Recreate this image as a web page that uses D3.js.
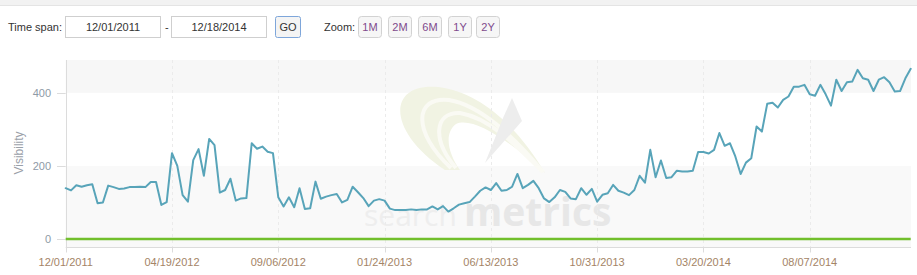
<!DOCTYPE html>
<html>
<head>
<meta charset="utf-8">
<script src="https://cdn.jsdelivr.net/npm/d3@7"></script>
<style>
  html, body { margin: 0; padding: 0; background: #fff; }
  svg { display: block; font-family: "Liberation Sans", Arial, sans-serif; }
</style>
</head>
<body>
<svg width="917" height="275"></svg>
<script>
// weekly visibility values, first week 12/01/2011
var visibility = [
  139, 133, 147, 143, 147, 150, 98, 100, 146, 142,
  137, 138, 142, 142, 143, 142, 156, 156, 93, 101,
  235, 200, 120, 102, 216, 246, 173, 274, 257, 127,
  134, 165, 105, 111, 112, 262, 247, 253, 239, 235,
  114, 89, 114, 87, 139, 82, 84, 157, 110, 116,
  120, 123, 100, 107, 143, 128, 112, 90, 105, 109,
  105, 83, 79, 79, 79, 81, 79, 81, 81, 89,
  81, 90, 75, 84, 94, 98, 101, 116, 132, 141,
  134, 153, 132, 134, 143, 178, 139, 148, 159, 139,
  111, 101, 114, 134, 129, 111, 109, 139, 121, 137,
  102, 121, 125, 148, 132, 127, 120, 134, 173, 154,
  244, 169, 215, 167, 169, 187, 185, 185, 187, 238,
  238, 234, 244, 290, 255, 262, 226, 178, 209, 221,
  308, 294, 370, 373, 360, 381, 390, 417, 417, 422,
  396, 392, 422, 396, 365, 436, 405, 429, 431, 463,
  440, 436, 405, 436, 443, 429, 404, 405, 440, 466
];
var baselineDates = ["12/01/2011", "12/18/2014"];
var baselineValues = [0, 0];
var xTickLabels = ["12/01/2011", "04/19/2012", "09/06/2012", "01/24/2013",
                   "06/13/2013", "10/31/2013", "03/20/2014", "08/07/2014"];
var yTicks = [0, 200, 400];
var zoomButtons = ["1M", "2M", "6M", "1Y", "2Y"];
var spanFrom = "12/01/2011", spanTo = "12/18/2014";

var parseDate = d3.timeParse("%m/%d/%Y");
var startDate = parseDate(spanFrom);
var data = visibility.map(function (v, i) {
    return { date: d3.timeDay.offset(startDate, i * 7), value: v };
});
var base = baselineDates.map(function (d, i) {
    return { date: parseDate(d), value: baselineValues[i] };
});

var svg = d3.select("svg");

// ---- control bar ----
svg.append("rect").attr("x", 0).attr("y", 0).attr("width", 917).attr("height", 5).attr("fill", "#f2f2f2");
svg.append("line").attr("x1", 0).attr("x2", 917).attr("y1", 5.5).attr("y2", 5.5).attr("stroke", "#e4e4e4");

var bar = svg.append("g").attr("font-size", 11);
bar.append("text").attr("x", 8).attr("y", 31).attr("fill", "#333").text("Time span:");

function box(x, w, label, opts) {
    opts = opts || {};
    bar.append("rect")
        .attr("x", x + 0.5).attr("y", 16.5).attr("width", w).attr("height", 21)
        .attr("rx", opts.rx || 0)
        .attr("fill", opts.fill || "#fff")
        .attr("stroke", opts.stroke || "#cfcfcf");
    bar.append("text")
        .attr("x", x + 0.5 + w / 2).attr("y", 31)
        .attr("text-anchor", "middle")
        .attr("fill", opts.color || "#333")
        .text(label);
}
box(65, 95, spanFrom);
bar.append("text").attr("x", 165).attr("y", 31).attr("fill", "#333").text("-");
box(171, 95, spanTo);
box(275, 25, "GO", { rx: 2, fill: "#f4f4f4", stroke: "#7ea6da" });
bar.append("text").attr("x", 324).attr("y", 31).attr("fill", "#333").text("Zoom:");
var zoomX = [358, 388, 418, 448, 476];
zoomButtons.forEach(function (b, i) {
    box(zoomX[i], 23, b, { rx: 3, fill: "#f6f6f6", stroke: "#d2d2d2", color: "#7f4a8c" });
});

// ---- chart ----
var plot = { left: 65.7, right: 911, top: 60, bottom: 247 };

var x = d3.scaleTime()
    .domain([startDate, parseDate(spanTo)])
    .range([plot.left, 910.7]);

var y = d3.scaleLinear()
    .domain([-22, 490])
    .range([plot.bottom, plot.top]);

var g = svg.append("g");

// alternating bands
var bands = [[-22, 200, "#f9f9f9"], [200, 400, "#ffffff"], [400, 490, "#f7f7f7"]];
g.selectAll(".band").data(bands).enter().append("rect")
    .attr("x", plot.left).attr("width", plot.right - plot.left)
    .attr("y", function (d) { return y(d[1]); })
    .attr("height", function (d) { return y(d[0]) - y(d[1]); })
    .attr("fill", function (d) { return d[2]; });

// watermark
var wm = g.append("g");
wm.append("path")
    .attr("d", "M445,170 C385,130 388,82 438,87 C482,92 520,130 545,173 C512,143 474,116 456,124 C443,134 449,155 460,170 Z")
    .attr("fill", "#f1f3e3");
wm.append("path")
    .attr("d", "M451,168 C412,132 414,96 449,100 C481,105 517,140 543,172")
    .attr("fill", "none").attr("stroke", "#fafaf4").attr("stroke-width", 4);
wm.append("path")
    .attr("d", "M456,168 C432,140 434,112 460,113 C490,118 517,146 543,172")
    .attr("fill", "none").attr("stroke", "#fafaf4").attr("stroke-width", 4);
wm.append("path")
    .attr("d", "M512,98 L522,121 L485,163 L503,118 Z")
    .attr("fill", "#ededed");
wm.append("text")
    .attr("x", 364).attr("y", 226)
    .attr("font-family", "'Open Sans', sans-serif").attr("font-size", 30)
    .attr("fill", "#eeeeee")
    .text("search");
wm.append("text")
    .attr("x", 464).attr("y", 226)
    .attr("font-family", "'Open Sans', sans-serif").attr("font-size", 39).attr("font-weight", "bold")
    .attr("fill", "#e7e7e7")
    .text("metrics");

// vertical grid lines
var tickDates = xTickLabels.map(parseDate);
g.selectAll(".vgrid").data(tickDates.slice(1)).enter().append("line")
    .attr("x1", function (d) { return Math.round(x(d)) + 0.5; })
    .attr("x2", function (d) { return Math.round(x(d)) + 0.5; })
    .attr("y1", plot.top).attr("y2", plot.bottom)
    .attr("stroke", "#ebebeb").attr("stroke-dasharray", "3,3");

// left border
g.append("line")
    .attr("x1", Math.round(plot.left) + 0.5).attr("x2", Math.round(plot.left) + 0.5)
    .attr("y1", plot.top).attr("y2", plot.bottom + 5)
    .attr("stroke", "#dcdcdc");

// x axis
var xAxis = g.append("g").attr("transform", "translate(0," + (plot.bottom + 0.5) + ")");
xAxis.append("line").attr("x1", plot.left).attr("x2", plot.right).attr("stroke", "#dcdcdc");
xAxis.selectAll(".tick").data(tickDates).enter().append("line")
    .attr("x1", function (d) { return Math.round(x(d)) + 0.5; })
    .attr("x2", function (d) { return Math.round(x(d)) + 0.5; })
    .attr("y1", 0).attr("y2", 5)
    .attr("stroke", "#dcdcdc");
xAxis.selectAll("text").data(xTickLabels).enter().append("text")
    .attr("x", function (d) { return x(parseDate(d)); })
    .attr("y", 18)
    .attr("text-anchor", "middle")
    .attr("font-size", 11)
    .attr("fill", "#a48466")
    .text(function (d) { return d; });

// y axis
var yAxis = g.append("g");
yAxis.selectAll("line").data(yTicks).enter().append("line")
    .attr("x1", 57).attr("x2", plot.left)
    .attr("y1", function (d) { return Math.round(y(d)) + 0.5; })
    .attr("y2", function (d) { return Math.round(y(d)) + 0.5; })
    .attr("stroke", "#dcdcdc");
yAxis.selectAll("text").data(yTicks).enter().append("text")
    .attr("x", 51).attr("y", function (d) { return y(d) + 4; })
    .attr("text-anchor", "end")
    .attr("font-size", 11)
    .attr("fill", "#8e9aa6")
    .text(function (d) { return d; });
svg.append("text")
    .attr("transform", "translate(23,153) rotate(-90)")
    .attr("text-anchor", "middle")
    .attr("font-size", 12)
    .attr("fill", "#9aa0a8")
    .text("Visibility");

// series
var line = d3.line()
    .x(function (d) { return x(d.date); })
    .y(function (d) { return y(d.value); });

g.append("path")
    .datum(base)
    .attr("fill", "none")
    .attr("stroke", "#72bf2c")
    .attr("stroke-width", 2.5)
    .attr("d", line);

g.append("path")
    .datum(data)
    .attr("fill", "none")
    .attr("stroke", "#58a4b9")
    .attr("stroke-width", 2)
    .attr("stroke-linejoin", "round")
    .attr("stroke-linecap", "round")
    .attr("d", line);
</script>
</body>
</html>
